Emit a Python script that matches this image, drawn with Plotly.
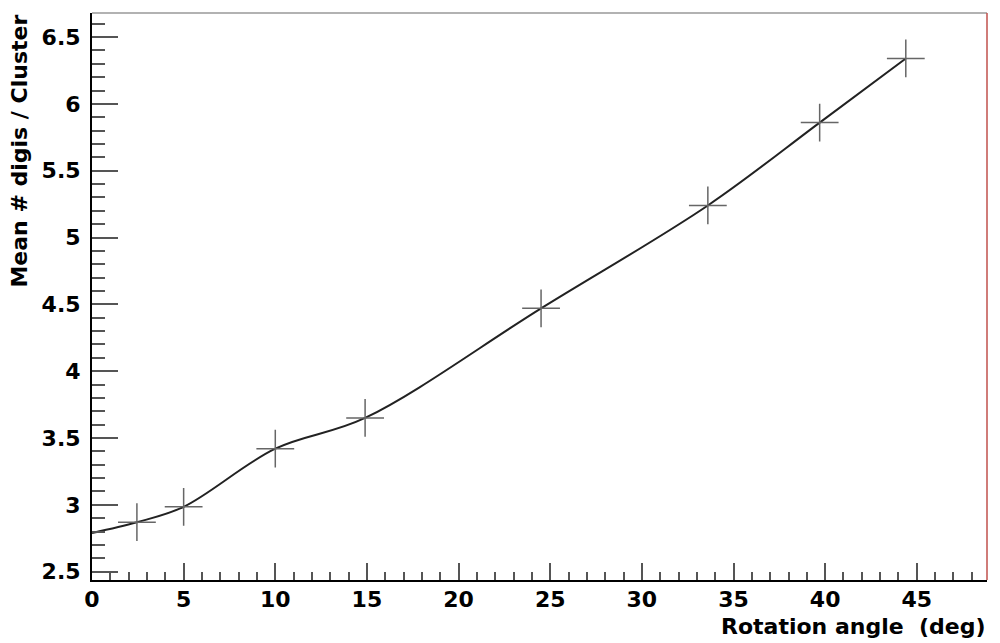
import plotly.graph_objects as go

# Data
angles = [2.45, 5.0, 10.0, 14.9, 24.5, 33.6, 39.7, 44.4]
mean_digis = [2.87, 2.985, 3.42, 3.65, 4.47, 5.24, 5.86, 6.34]
curve_start_x = [0.0]
curve_start_y = [2.79]

x_title = "Rotation angle  (deg)"
y_title = "Mean # digis / Cluster"

FONT = "DejaVu Sans, Liberation Sans, Arial, sans-serif"

fig = go.Figure()

fig.add_trace(go.Scatter(
    x=curve_start_x + angles,
    y=curve_start_y + mean_digis,
    mode="lines",
    line=dict(color="#222222", width=2, shape="spline", smoothing=1.0),
    hoverinfo="skip",
    showlegend=False,
))

fig.add_trace(go.Scatter(
    x=angles,
    y=mean_digis,
    mode="markers",
    marker=dict(symbol="cross-thin", size=27,
                line=dict(color="#666666", width=1.5)),
    showlegend=False,
))

fig.update_layout(
    width=1000, height=643,
    margin=dict(l=92, r=13, t=13, b=63),
    paper_bgcolor="white",
    plot_bgcolor="white",
    font=dict(family=FONT, size=22, color="black"),
    xaxis=dict(
        range=[0, 48.83],
        tick0=0, dtick=5,
        ticks="inside", ticklen=17, tickwidth=1.5, tickcolor="#555555",
        minor=dict(dtick=1, ticks="inside", ticklen=8, tickwidth=1.5, tickcolor="#555555"),
        showgrid=False, zeroline=False,
        showline=True, linecolor="black", linewidth=2,
        tickfont=dict(family=FONT, size=22, color="black", weight="bold"),
        ticklabelstandoff=-1,
        automargin=False,
    ),
    yaxis=dict(
        range=[2.4376, 6.68],
        tick0=2.5, dtick=0.5,
        ticks="inside", ticklen=26, tickwidth=1.5, tickcolor="#555555",
        minor=dict(dtick=0.1, ticks="inside", ticklen=13, tickwidth=1.5, tickcolor="#555555"),
        showgrid=False, zeroline=False,
        showline=True, linecolor="black", linewidth=2,
        tickfont=dict(family=FONT, size=22, color="black", weight="bold"),
        ticklabelstandoff=5,
        automargin=False,
    ),
    shapes=[
        dict(type="line", xref="paper", yref="paper", x0=0, x1=1, y0=1, y1=1,
             line=dict(color="#999999", width=1.5)),
        dict(type="line", xref="paper", yref="paper", x0=1, x1=1, y0=0, y1=1,
             line=dict(color="#c0504d", width=1.5)),
    ],
    annotations=[
        dict(text=x_title, xref="paper", yref="paper", x=1.0, y=-0.056,
             xanchor="right", yanchor="top", showarrow=False,
             font=dict(family=FONT, size=22, color="black", weight="bold")),
        dict(text=y_title, xref="paper", yref="paper", x=-0.0815, y=1.0,
             xanchor="center", yanchor="top", textangle=-90, showarrow=False,
             font=dict(family=FONT, size=22, color="black", weight="bold")),
    ],
)

fig.write_html(
    "out.html",
    config={"displayModeBar": False},
    post_script="document.body.style.margin='0';document.body.style.overflow='hidden';",
)
